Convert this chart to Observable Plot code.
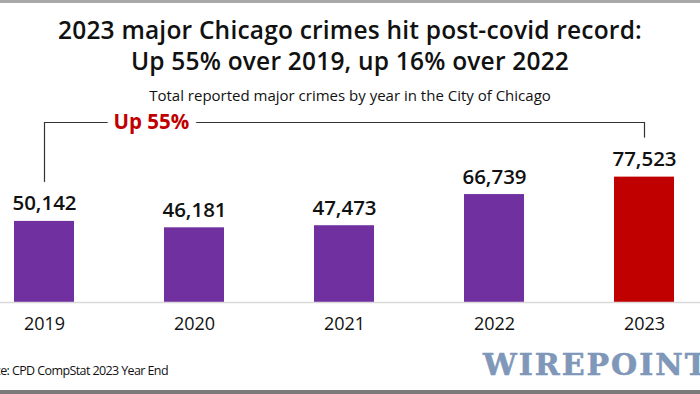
<!DOCTYPE html>
<html>
<head>
<meta charset="utf-8">
<script src="https://cdn.jsdelivr.net/npm/d3@7"></script>
<script src="https://cdn.jsdelivr.net/npm/@observablehq/plot@0.6"></script>
<style>
  html, body { margin: 0; padding: 0; background: #fff; }
  body { position: relative; width: 700px; height: 394px; overflow: hidden; font-family: "Open Sans", sans-serif; color: #111; }
  .topbar { position: absolute; left: 0; top: 0; width: 700px; height: 3px; background: #a8a8a8; }
  .bottombar { position: absolute; left: 0; top: 390px; width: 700px; height: 4px; background: #7a7a7a; }
  .title { position: absolute; left: 0; top: 14px; width: 700px; text-align: center; font-size: 24.5px; line-height: 31px; font-weight: 600; letter-spacing: 0.2px; }
  .subtitle { position: absolute; left: 0; top: 85px; width: 700px; text-align: center; font-size: 15px; line-height: 20px; letter-spacing: 0; }
  #chart { position: absolute; left: 0; top: 100px; }
  .source { position: absolute; left: 0; top: 362px; width: 168px; display: flex; justify-content: flex-end; white-space: nowrap; font-size: 12.5px; line-height: 18px; letter-spacing: -0.6px; }
  .logo { position: absolute; left: 483px; top: 348px; white-space: nowrap; font-family: "DejaVu Serif", serif; font-weight: 700; font-size: 30px; line-height: 34px; color: #7f97b9; letter-spacing: 2px; -webkit-text-stroke: 0.6px #7f97b9; }
</style>
</head>
<body>
<div class="topbar"></div>
<div class="title">2023 major Chicago crimes hit post-covid record:<br>Up 55% over 2019, up 16% over 2022</div>
<div class="subtitle">Total reported major crimes by year in the City of Chicago</div>
<div id="chart"></div>
<div class="source"><span>Source: CPD CompStat 2023 Year End</span></div>
<div class="logo">WIREPOINTS</div>
<div class="bottombar"></div>
<script>
// ---- Data ----
const years = ["2019", "2020", "2021", "2022", "2023"];
const crimes = [50142, 46181, 47473, 66739, 77523];
const highlightYear = "2023";
const bracketFrom = "2019";
const bracketTo = "2023";
const bracketLabel = "Up 55%";
const bracketLevel = 111300;

// ---- Styles ----
const purple = "#7030a0";
const red = "#c00000";

const data = years.map((year, i) => ({year, crimes: crimes[i]}));
const ends = data.filter(d => d.year === bracketFrom || d.year === bracketTo);
const fmt = d3.format(",");

const chart = Plot.plot({
  width: 700,
  height: 240,
  marginTop: 0,
  marginBottom: 38,
  marginLeft: 0,
  marginRight: 0,
  style: {fontFamily: "Open Sans, sans-serif", color: "#111", background: "transparent", overflow: "visible"},
  x: {type: "band", domain: years, range: [14, 674], paddingInner: 0.6, paddingOuter: 0, label: null},
  y: {domain: [0, 124900], axis: null},
  marks: [
    Plot.barY(data, {x: "year", y: "crimes", fill: d => d.year === highlightYear ? red : purple}),
    Plot.ruleY([0], {stroke: "#d9d9d9", strokeWidth: 1.5}),
    Plot.axisX({tickSize: 0, tickPadding: 15, fontSize: 18, fill: "#111", label: null}),
    Plot.text(data, {x: "year", y: "crimes", text: d => fmt(d.crimes), dy: -11, lineAnchor: "bottom",
      fontSize: 20.5, fontWeight: 600, fill: "#111", letterSpacing: "0.06em"}),
    Plot.ruleX(ends, {x: "year", y1: bracketLevel, y2: "crimes", insetBottom: 39, stroke: "#333", strokeWidth: 1.2}),
    Plot.link([{from: bracketFrom, to: bracketTo}], {x1: "from", x2: "to", y1: bracketLevel, y2: bracketLevel, stroke: "#333", strokeWidth: 1.2}),
    Plot.text([{from: bracketFrom, label: bracketLabel}], {x: "from", y: bracketLevel, text: "label", textAnchor: "start", dx: 69,
      fontSize: 20.5, fontWeight: 700, fill: red, stroke: "white", strokeWidth: 15, paintOrder: "stroke"})
  ]
});
document.getElementById("chart").appendChild(chart);
</script>
</body>
</html>
